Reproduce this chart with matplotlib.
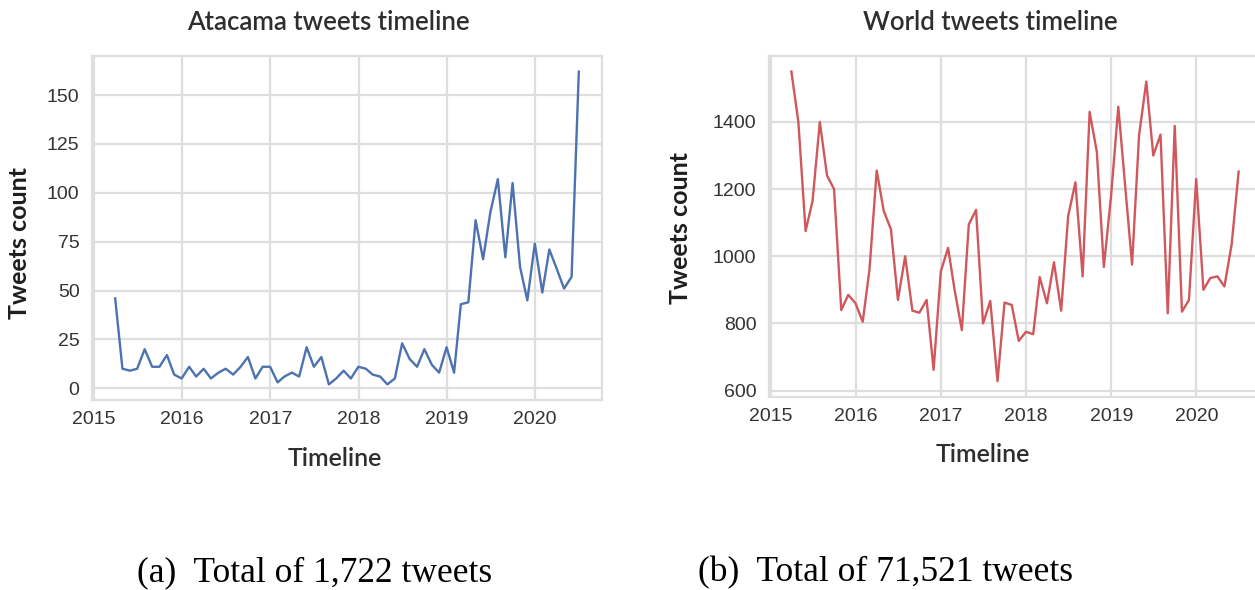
import matplotlib
matplotlib.use("Agg")
import matplotlib.pyplot as plt
import matplotlib.dates as mdates
from matplotlib.ticker import MultipleLocator
import pandas as pd

# ---- data ----
months = pd.date_range("2015-03-31", periods=64, freq="ME")
atacama_counts = [46, 10, 9, 10, 20, 11, 11, 17, 7, 5, 11, 6, 10, 5, 8, 10,
                  7, 11, 16, 5, 11, 11, 3, 6, 8, 6, 21, 11, 16, 2, 5, 9,
                  5, 11, 10, 7, 6, 2, 5, 23, 15, 11, 20, 12, 8, 21, 8, 43,
                  44, 86, 66, 90, 107, 67, 105, 62, 45, 74, 49, 71, 61, 51, 57, 162]
world_counts = [1550, 1400, 1075, 1165, 1400, 1240, 1200, 840, 885, 860, 805, 960,
                1255, 1135, 1080, 870, 1000, 838, 832, 870, 662, 955, 1025, 900,
                780, 1095, 1138, 800, 867, 628, 862, 855, 748, 775, 768, 938,
                860, 982, 838, 1120, 1220, 940, 1430, 1310, 968, 1180, 1445, 1220,
                975, 1360, 1520, 1300, 1362, 830, 1388, 835, 870, 1230, 900, 935,
                940, 910, 1035, 1252]
titles = ["Atacama tweets timeline", "World tweets timeline"]
captions = ["(a)  Total of 1,722 tweets", "(b)  Total of 71,521 tweets"]

W, H = 1255, 590
fig = plt.figure(figsize=(W / 100, H / 100), dpi=100)
fig.patch.set_facecolor("white")

def rect(x0, y0, x1, y1):
    return [x0 / W, 1 - y1 / H, (x1 - x0) / W, (y1 - y0) / H]

ax1 = fig.add_axes(rect(92, 56, 602, 400))
ax2 = fig.add_axes(rect(769, 56, 1261, 396.7))

grid_c = "#dedede"
tick_c = "#333333"
label_font = ["Lato", "DejaVu Sans"]

for ax, y, col, step in [(ax1, atacama_counts, "#4c72b0", 25),
                         (ax2, world_counts, "#d0585c", 200)]:
    ax.plot(months, y, color=col, linewidth=1.7)
    ax.set_facecolor("white")
    ax.grid(True, color=grid_c, linewidth=1.6)
    ax.set_axisbelow(True)
    for s in ax.spines.values():
        s.set_color(grid_c)
        s.set_linewidth(1.6)
    ax.xaxis.set_major_locator(mdates.YearLocator())
    ax.xaxis.set_major_formatter(mdates.DateFormatter("%Y"))
    ax.yaxis.set_major_locator(MultipleLocator(step))
    ax.tick_params(axis="both", length=0, labelsize=14, labelcolor=tick_c,
                   labelfontfamily="Liberation Sans")
    ax.tick_params(axis="x", pad=8)
    ax.tick_params(axis="y", pad=9)

# titles and axis labels
fig.text(328 / W, 1 - 23 / H, titles[0], ha="center", va="center",
         fontsize=18.5, color="#2e2e2e", family=label_font, weight="semibold")
fig.text(990 / W, 1 - 23 / H, titles[1], ha="center", va="center",
         fontsize=18.5, color="#2e2e2e", family=label_font, weight="semibold")
fig.text(335 / W, 1 - 458 / H, "Timeline", ha="center", va="center",
         fontsize=18, color="#2e2e2e", family=label_font, weight="semibold")
fig.text(983 / W, 1 - 455 / H, "Timeline", ha="center", va="center",
         fontsize=18, color="#2e2e2e", family=label_font, weight="semibold")
fig.text(20 / W, 1 - 243 / H, "Tweets count", ha="center", va="center",
         rotation=90, fontsize=18, color="#1e1e1e", family=label_font, weight="bold")
fig.text(681 / W, 1 - 228 / H, "Tweets count", ha="center", va="center",
         rotation=90, fontsize=18, color="#1e1e1e", family=label_font, weight="bold")

# captions
fig.text(315 / W, 1 - 581 / H, captions[0], ha="center", va="baseline",
         fontsize=25.5, color="black", family="Liberation Serif")
fig.text(885 / W, 1 - 581 / H, captions[1], ha="center", va="baseline",
         fontsize=25.5, color="black", family="Liberation Serif")

fig.savefig("out.png", dpi=100, facecolor="white")
